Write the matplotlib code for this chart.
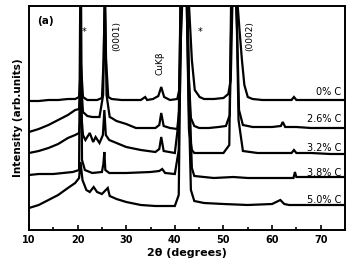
import matplotlib
matplotlib.use("Agg")
import matplotlib.pyplot as plt
from matplotlib.ticker import MultipleLocator

# XRD patterns, intensity in arbitrary units
x_0 = [10, 12, 14, 16, 18, 19.5, 20.3, 20.7, 21.1, 22, 24, 25.0, 25.35, 25.6, 25.85, 26.3,
       27, 29, 31, 33, 33.9, 34.3, 35.5, 36.6, 37.2, 37.8, 39, 40.5, 40.9, 41.3, 41.8,
       42.4, 42.9, 43.5, 44.1, 45.1, 46, 48, 50, 51.0, 51.5, 51.9, 52.4, 52.9, 53.3,
       53.8, 54.3, 55.0, 56, 58, 61, 64, 64.5, 65, 68, 72, 75]
y_0 = [129, 129, 130, 130, 131, 131, 133, 165, 133, 130, 130, 132, 170, 240, 170, 133,
       131, 130, 130, 130, 133, 130, 131, 134, 143, 133, 130, 131, 140, 200, 260,
       260, 226, 170, 140, 133, 131, 131, 132, 136, 150, 240, 260, 226, 200,
       170, 145, 133, 131, 130, 130, 130, 133, 130, 130, 130, 130]

x_26 = [10, 12, 14, 16, 18, 19.5, 20.3, 20.7, 21.1, 22, 23, 24.5, 25.25, 25.6, 25.95, 26.6,
        27, 28, 30, 32, 34, 36, 36.8, 37.2, 37.7, 39, 40.5, 41.0, 41.4, 42.0, 42.5, 42.9,
        43.3, 44, 45, 47, 49, 50.5, 51.3, 51.7, 52.3, 52.8, 53.2, 54, 56, 58, 60, 61.8,
        62.2, 62.7, 65, 68, 72, 75]
y_26 = [98, 101, 105, 110, 115, 120, 121, 150, 118, 114, 113, 113, 135, 240, 135, 113,
        112, 109, 106, 102, 102, 102, 105, 117, 104, 102, 101, 125, 240, 260, 240, 150,
        112, 104, 102, 102, 103, 104, 115, 240, 260, 200, 120, 105, 103, 103, 103, 104,
        108, 103, 103, 102, 102, 102]

x_32 = [10, 12, 14, 16, 18, 19.5, 20.3, 20.7, 21.1, 21.6, 22.5, 23.2, 23.7, 24.5, 25.2,
        25.5, 25.8, 26.5, 28, 30, 33, 36, 36.8, 37.2, 37.7, 40, 40.8, 41.2, 41.8, 42.4,
        42.9, 43.5, 44, 47, 50, 51.2, 51.6, 52.2, 52.7, 53.1, 54, 57, 60, 64, 64.5, 65,
        68, 72, 75]
y_32 = [77, 79, 82, 86, 92, 95, 97, 120, 95, 90, 97, 88, 93, 87, 95,
        120, 95, 90, 87, 83, 80, 78, 81, 93, 79, 77, 110, 240, 260, 240,
        100, 80, 77, 77, 77, 85, 240, 260, 220, 110, 79, 77, 77, 77, 80, 77,
        77, 76, 76]

x_38 = [10, 12, 15, 17, 19, 20.3, 20.55, 20.7, 20.9, 21.5, 23, 25.0, 25.3, 25.5, 25.7,
        26.5, 30, 35, 36.8, 37.4, 38, 40, 40.8, 41.2, 41.8, 42.5, 42.9, 43.5, 44, 48,
        52, 55, 60, 64.4, 64.7, 65, 70, 75]
y_38 = [55, 56, 56, 57, 58, 60, 240, 240, 70, 60, 57, 58, 66, 78, 60,
        57, 57, 58, 59, 61, 57, 56, 80, 240, 260, 240, 150, 62, 54, 52,
        53, 52, 52, 52, 58, 53, 53, 53]

x_50 = [10, 12, 14, 16, 18, 19.5, 20.3, 20.6, 21.0, 21.8, 22.5, 23.3, 24, 25, 26.2,
        26.6, 28, 30, 33, 36, 40, 40.8, 41.3, 41.9, 42.4, 42.8, 43.3, 44, 46, 50, 55,
        60, 61.7, 62.5, 63.5, 68, 75]
y_50 = [22, 25, 30, 35, 42, 47, 52, 68, 50, 40, 38, 43, 38, 36, 42,
        34, 31, 28, 25, 24, 24, 35, 240, 260, 240, 140, 40, 29, 27, 26, 25,
        26, 30, 26, 25, 25, 25]

series = [(x_0, y_0), (x_26, y_26), (x_32, y_32), (x_38, y_38), (x_50, y_50)]
labels = ["0% C", "2.6% C", "3.2% C", "3.8% C", "5.0% C"]
label_y = [138, 111, 82, 57, 30]

fig = plt.figure(figsize=(3.47, 2.60), dpi=100)
ax = fig.add_axes([29 / 347, 30 / 260, 316 / 347, 224 / 260])

for xs, ys in series:
    ax.plot(xs, ys, color="black", lw=1.6, solid_joinstyle="miter")

for lab, ly in zip(labels, label_y):
    ax.text(74.2, ly, lab, ha="right", va="center", fontsize=7)

ax.text(0.025, 0.955, "(a)", transform=ax.transAxes, fontsize=7.5,
        fontweight="bold", va="top")
ax.text(21.3, 198, "*", fontsize=7, ha="center", va="center")
ax.text(45.3, 198, "*", fontsize=7, ha="center", va="center")
ax.text(28.1, 194, "(0001)", rotation=90, fontsize=6.5, ha="center", va="center")
ax.text(36.9, 167, "CuKβ", rotation=90, fontsize=6.5, ha="center", va="center")
ax.text(55.4, 194, "(0002)", rotation=90, fontsize=6.5, ha="center", va="center")

ax.set_xlim(10, 75)
ax.set_ylim(0, 224)
ax.set_yticks([])
ax.xaxis.set_major_locator(MultipleLocator(10))
ax.xaxis.set_minor_locator(MultipleLocator(5))
ax.tick_params(axis="x", which="both", direction="in", width=1.2, labelsize=7)
ax.tick_params(axis="x", which="major", length=3.5)
ax.tick_params(axis="x", which="minor", length=2.5)
for lbl in ax.get_xticklabels():
    lbl.set_fontweight("bold")
for sp in ax.spines.values():
    sp.set_linewidth(1.4)

ax.set_xlabel("2θ (degrees)", fontsize=8, fontweight="bold", labelpad=2)
ax.set_ylabel("Intensity (arb.units)", fontsize=7.5, fontweight="bold", labelpad=4)

fig.savefig("out.png", dpi=100)
